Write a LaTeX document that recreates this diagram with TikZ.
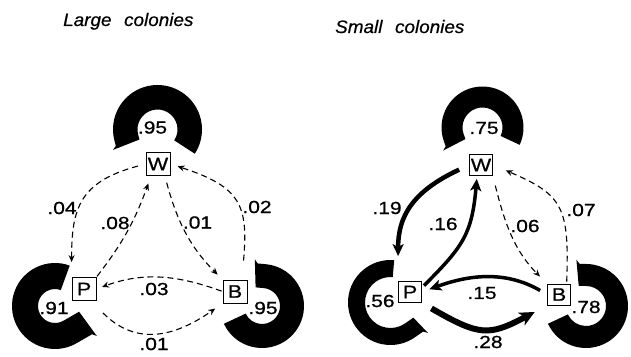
\documentclass[tikz,border=0pt]{standalone}
\usepackage{fontspec}
\usetikzlibrary{arrows.meta,calc}
\newfontfamily\lblfont[FakeStretch=1.2,FakeBold=0.8]{Liberation Sans}
\newfontfamily\ttlfont[FakeStretch=1.05,FakeBold=0.6]{Liberation Sans}
% #1 centre, #2 inner r, #3 outer r, #4 start angle, #5 end angle, #6 tangential extension
\newcommand\selfloop[6]{%
  \fill ($(#1)+(#4:#3)$) arc[start angle=#4, end angle=#5, radius=#3]
    -- ++({#5+90}:#6) -- ++({#5+40}:5)
    -- ($(#1)+(#5:#2)+({#5+90}:#6)$)
    -- ($(#1)+(#5:#2)$)
    arc[start angle=#5, end angle=#4, radius=#2] -- cycle;}
\begin{document}
\begin{tikzpicture}[x=1pt,y=1pt,
  box/.style={draw, line width=0.8pt, fill=white, minimum width=24pt, minimum height=23pt, inner sep=0pt, font=\lblfont\fontsize{18}{18}\selectfont},
  boxr/.style={box, minimum width=23pt, minimum height=21pt},
  lbl/.style={font=\lblfont\fontsize{17.5}{17.5}\selectfont, inner sep=0pt},
  ttl/.style={font=\ttlfont\itshape\fontsize{18}{18}\selectfont, inner sep=0pt, anchor=base west},
  dsh/.style={line width=1.1pt, dash pattern=on 6pt off 4pt, -{Stealth[length=7pt,width=6pt]}},
  thk/.style={line width=4pt, -{Stealth[length=12pt,width=11pt,inset=3pt]}}]
\useasboundingbox (0,0) rectangle (631,356);

% titles
\node[ttl] (t1) at (63,330) {Large\hspace{0.7em}colonies};
\node[ttl] (t2) at (335,323) {Small\hspace{0.7em}colonies};

% ---------- Large colonies ----------
\node[box] (LW) at (158,192) {W};
\node[box] (LP) at (84,67) {P};
\node[box] (LB) at (235,64.5) {B};
\coordinate (LWc) at ($(LW)+(-0.5,34.5)$);
\coordinate (LPc) at ($(LP)+(-29,-17)$);
\coordinate (LBc) at ($(LB)+(27,-14.5)$);
\selfloop{LWc}{20}{44.5}{-33}{195}{5}
\selfloop{LPc}{17}{43}{70}{300}{18}
\selfloop{LBc}{18}{42}{205}{445}{8}
\node[lbl] (lw) at (152.5,228.5) {.95};
\node[lbl] (lp) at (54,48) {.91};
\node[lbl] (lb) at (263,48) {.95};

\draw[dsh, shorten <=8pt, shorten >=15pt] (LW.west) to[out=195,in=90,looseness=1.3] (LP.north west);
\draw[dsh, shorten <=1pt, shorten >=8pt] (LP.north east) to[out=52,in=250] (LW.240);
\draw[dsh, shorten <=7pt, shorten >=7pt] (LW.300) to[out=285,in=135] (LB.north west);
\draw[dsh, shorten <=19pt, shorten >=7.5pt] (LB.60) to[out=85,in=342,looseness=1.4] (LW.east);
\draw[dsh, shorten <=1pt, shorten >=6pt] (LB.west) to[out=160,in=20] (LP.east);
\draw[dsh, shorten <=17pt, shorten >=9pt] (LP.-60) to[out=-45,in=215,looseness=1.2] (LB.south west);

\node[lbl] (l1) at (62,148) {.04};
\node[lbl] (l2) at (115,133) {.08};
\node[lbl] (l3) at (197.5,133.5) {.01};
\node[lbl] (l4) at (257,149) {.02};
\node[lbl] (l5) at (154,67) {.03};
\node[lbl] (l6) at (154,12) {.01};

% ---------- Small colonies ----------
\node[boxr] (RW) at (481,191) {W};
\node[boxr] (RP) at (410,64) {P};
\node[boxr] (RB) at (559,61.5) {B};
\coordinate (RWc) at ($(RW)+(1.5,37.5)$);
\coordinate (RPc) at ($(RP)+(-19.5,-10.5)$);
\coordinate (RBc) at ($(RB)+(27,-11.5)$);
\selfloop{RWc}{20}{41}{-25}{200}{5}
\selfloop{RPc}{25.5}{42.5}{85}{305}{10}
\selfloop{RBc}{20}{42}{205}{448}{8}
\node[lbl] (rw) at (484,228) {.75};
\node[lbl] (rp) at (380,55) {.56};
\node[lbl] (rb) at (586,49) {.78};

\draw[thk, line width=4.5pt, shorten <=11pt, shorten >=25pt] (RW.west) to[out=205,in=90,looseness=1.2] (RP.north west);
\draw[thk, line width=3.5pt, shorten <=3pt, shorten >=3pt] (RP.20) to[out=45,in=265,looseness=1.2] (RW.250);
\draw[dsh, shorten <=10pt, shorten >=10pt] (RW.south east) to[out=284,in=135] (RB.north west);
\draw[dsh, shorten <=2pt, shorten >=14pt] (RB.55) to[out=88,in=337,looseness=1.4] (RW.east);
\draw[thk, line width=3.5pt, shorten <=8pt, shorten >=8pt] (RB.west) to[out=150,in=20] (RP.east);
\draw[thk, line width=6pt, -{Stealth[length=15pt,width=14pt,inset=4pt]}, shorten <=11pt, shorten >=14pt] (RP.south east) to[out=-30,in=208,looseness=1.35] (RB.south west);

\node[lbl] (r1) at (387,148) {.19};
\node[lbl] (r2) at (443,132) {.16};
\node[lbl] (r3) at (525,130) {.06};
\node[lbl] (r4) at (581,146) {.07};
\node[lbl] (r5) at (482,63) {.15};
\node[lbl] (r6) at (488,14) {.28};
\end{tikzpicture}
\end{document}
